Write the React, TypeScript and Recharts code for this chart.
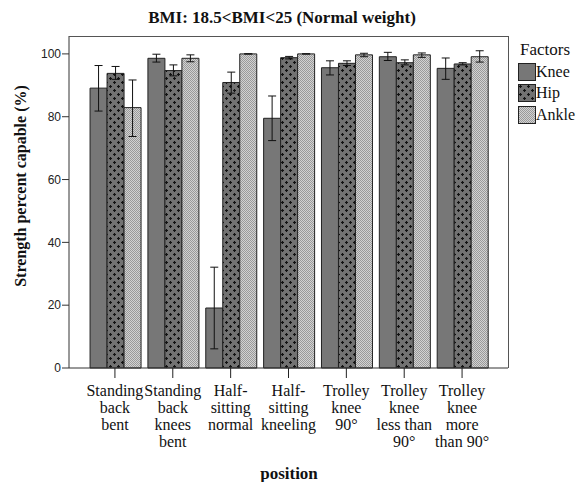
import { BarChart, Bar, XAxis, YAxis, ErrorBar } from "recharts";

const positions = [
  ["Standing", "back", "bent"],
  ["Standing", "back", "knees", "bent"],
  ["Half-", "sitting", "normal"],
  ["Half-", "sitting", "kneeling"],
  ["Trolley", "knee", "90°"],
  ["Trolley", "knee", "less than", "90°"],
  ["Trolley", "knee", "more", "than 90°"],
];

const knee = [89.1, 98.6, 19.1, 79.5, 95.6, 99.1, 95.4];
const hip = [93.8, 94.7, 90.9, 98.8, 97.0, 97.2, 96.8];
const ankle = [82.9, 98.6, 100, 100, 99.7, 99.7, 99.1];

const kneeLow = [81.8, 97.4, 6.1, 72.4, 93.3, 97.9, 91.9];
const kneeHigh = [96.3, 99.9, 32.1, 86.6, 97.8, 100.5, 98.7];
const hipLow = [91.9, 93.0, 87.5, 98.4, 96.3, 96.5, 96.5];
const hipHigh = [96.0, 96.5, 94.2, 99.2, 97.8, 98.1, 97.2];
const ankleLow = [73.7, 97.5, 100, 100, 99.1, 98.9, 97.4];
const ankleHigh = [91.7, 99.7, 100, 100, 100.2, 100.3, 101.0];

const factors = ["Knee", "Hip", "Ankle"];
const yTicks = [0, 20, 40, 60, 80, 100];

const data = positions.map((p, i) => ({
  name: p.join(" "),
  Knee: knee[i],
  Hip: hip[i],
  Ankle: ankle[i],
  kneeErr: [knee[i] - kneeLow[i], kneeHigh[i] - knee[i]],
  hipErr: [hip[i] - hipLow[i], hipHigh[i] - hip[i]],
  ankleErr: [ankle[i] - ankleLow[i], ankleHigh[i] - ankle[i]],
}));

const serif = "'Liberation Serif', 'Times New Roman', serif";
const sans = "'Liberation Sans', Arial, sans-serif";

const fills: Record<string, string> = {
  Knee: "#777777",
  Hip: "url(#hipPat)",
  Ankle: "url(#anklePat)",
};

function PositionTick(props: any) {
  const { x, y, payload, index } = props;
  const lines = positions[index] ?? [payload.value];
  return (
    <text x={x} y={y + 16} textAnchor="middle" fontFamily={serif} fontSize={16} fill="#111">
      {lines.map((l: string, i: number) => (
        <tspan key={i} x={x} dy={i === 0 ? 0 : 17}>
          {l}
        </tspan>
      ))}
    </text>
  );
}

function FactorsLegend() {
  return (
    <div style={{ position: "absolute", left: 518, top: 40, fontFamily: serif, color: "#111" }}>
      <div style={{ fontSize: 17, lineHeight: "20px", marginLeft: 2, marginBottom: 1 }}>Factors</div>
      {factors.map((k) => (
        <div key={k} style={{ display: "flex", alignItems: "center", height: 21.5, fontSize: 16 }}>
          <svg width={18} height={18}>
            <rect x={0.5} y={0.5} width={17} height={17} fill={fills[k]} stroke="#222" />
          </svg>
          {k}
        </div>
      ))}
    </div>
  );
}

export default function App() {
  return (
    <div style={{ position: "absolute", left: 0, top: 0, width: 576, height: 482, background: "#fff" }}>
      <div
        style={{
          position: "absolute",
          left: 282,
          top: 18,
          transform: "translate(-50%, -50%)",
          whiteSpace: "nowrap",
          fontFamily: serif,
          fontWeight: "bold",
          fontSize: 17,
          color: "#111",
        }}
      >
        BMI: 18.5&lt;BMI&lt;25 (Normal weight)
      </div>
      <div
        style={{
          position: "absolute",
          left: 21,
          top: 186,
          transform: "translate(-50%, -50%) rotate(-90deg)",
          whiteSpace: "nowrap",
          fontFamily: serif,
          fontWeight: "bold",
          fontSize: 16,
          color: "#111",
        }}
      >
        Strength percent capable (%)
      </div>
      <div
        style={{
          position: "absolute",
          left: 289,
          top: 474,
          transform: "translate(-50%, -50%)",
          fontFamily: serif,
          fontWeight: "bold",
          fontSize: 17,
          color: "#111",
        }}
      >
        position
      </div>
      <BarChart
        width={576}
        height={482}
        data={data}
        margin={{ top: 36, right: 68, bottom: 0, left: 0 }}
        barCategoryGap="7%"
        barGap={0}
      >
        <defs>
          <pattern id="hipPat" patternUnits="userSpaceOnUse" width={8} height={8}>
            <rect width={8} height={8} fill="#727272" />
            <path d="M1 2.5h3M2.5 1v3M5 6.5h3M6.5 5v3" stroke="#111" strokeWidth={1.2} />
          </pattern>
          <pattern id="anklePat" patternUnits="userSpaceOnUse" width={2} height={2}>
            <rect width={2} height={2} fill="#d2d2d2" />
            <rect width={1} height={1} fill="#9a9a9a" />
            <rect x={1} y={1} width={1} height={1} fill="#9a9a9a" />
          </pattern>
        </defs>
        <XAxis
          dataKey="name"
          interval={0}
          height={114}
          padding={{ left: 17, right: 17 }}
          tickSize={10}
          tickLine={{ stroke: "#222" }}
          axisLine={{ stroke: "#333" }}
          tick={<PositionTick />}
        />
        <YAxis
          width={69}
          domain={[0, 105.7]}
          ticks={yTicks}
          tickSize={7}
          tickMargin={1}
          tickLine={{ stroke: "#333" }}
          axisLine={{ stroke: "#333" }}
          tick={{ fontFamily: sans, fontSize: 12, fill: "#222" }}
        />
        <Bar dataKey="Knee" fill={fills.Knee} stroke="#222" strokeWidth={1} isAnimationActive={false}>
          <ErrorBar dataKey="kneeErr" width={4} stroke="#111" strokeWidth={1} />
        </Bar>
        <Bar dataKey="Hip" fill={fills.Hip} stroke="#222" strokeWidth={1} isAnimationActive={false}>
          <ErrorBar dataKey="hipErr" width={4} stroke="#111" strokeWidth={1} />
        </Bar>
        <Bar dataKey="Ankle" fill={fills.Ankle} stroke="#222" strokeWidth={1} isAnimationActive={false}>
          <ErrorBar dataKey="ankleErr" width={4} stroke="#111" strokeWidth={1} />
        </Bar>
      </BarChart>
      <div
        style={{
          position: "absolute",
          left: 69,
          top: 36,
          width: 440,
          height: 332,
          borderTop: "1px solid #555",
          borderRight: "1px solid #555",
          boxSizing: "border-box",
          pointerEvents: "none",
        }}
      />
      <FactorsLegend />
    </div>
  );
}
